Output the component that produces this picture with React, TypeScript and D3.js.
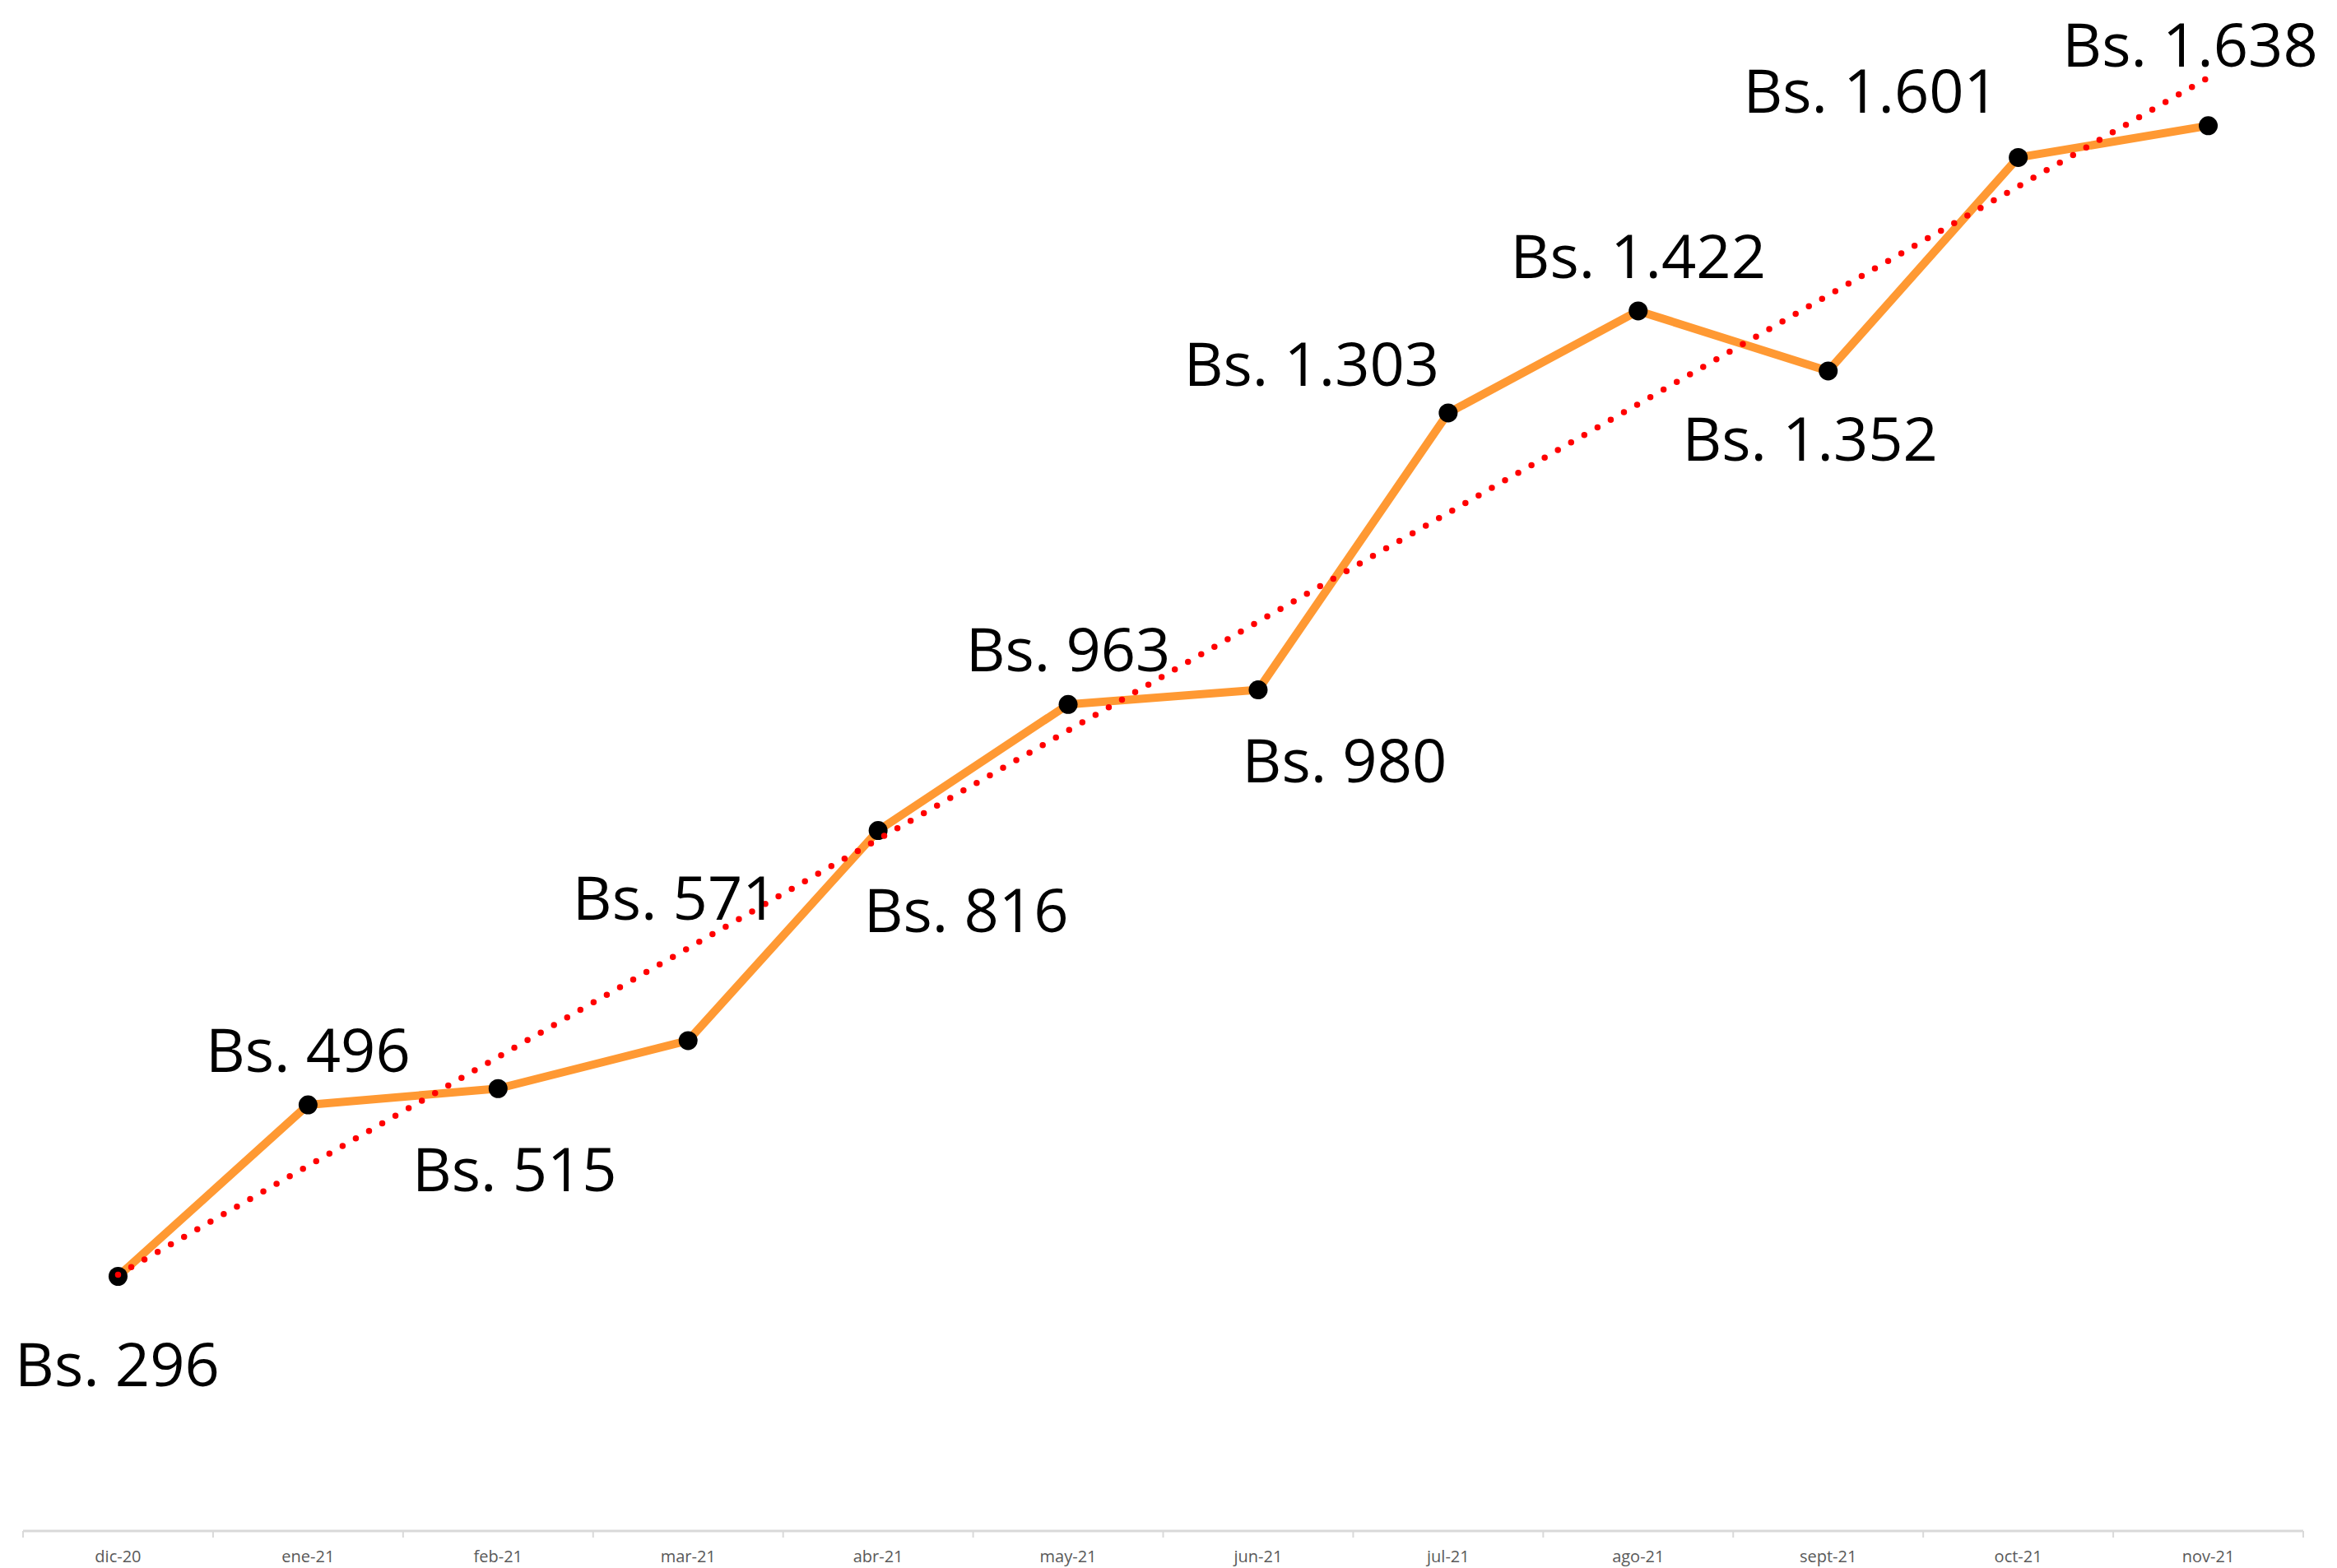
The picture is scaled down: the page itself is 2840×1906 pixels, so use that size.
import React, { useEffect, useRef } from 'react';
import * as d3 from 'd3';

const months = ['dic-20', 'ene-21', 'feb-21', 'mar-21', 'abr-21', 'may-21', 'jun-21', 'jul-21', 'ago-21', 'sept-21', 'oct-21', 'nov-21'];
const prices = [296, 496, 515, 571, 816, 963, 980, 1303, 1422, 1352, 1601, 1638];
const priceLabels = ['Bs. 296', 'Bs. 496', 'Bs. 515', 'Bs. 571', 'Bs. 816', 'Bs. 963', 'Bs. 980', 'Bs. 1.303', 'Bs. 1.422', 'Bs. 1.352', 'Bs. 1.601', 'Bs. 1.638'];

// manual label placement (px, relative to the marker), like the dragged labels in the original
const labelNudges: [number, number][] = [
  [-1, 133], [0, -40], [20, 125], [-16, -147], [107, 123], [0, -40],
  [105, 112], [-166, -33], [0, -40], [-22, 109], [-179, -54], [-22, -72]
];

const W = 2840;
const H = 1906;

const App: React.FC = () => {
  const svgRef = useRef<SVGSVGElement>(null);

  useEffect(() => {
    if (!svgRef.current) return;
    const svg = d3.select(svgRef.current);
    svg.selectAll('*').remove();

    const axisY = 1861;
    const xScale = d3.scalePoint<string>()
      .domain(months)
      .range([28, 2799])
      .padding(0.5);
    const step = xScale.step();

    const yScale = d3.scaleLinear()
      .domain([0, 1800])
      .range([1860, -16]);

    // axis line + ticks between categories
    const axis = svg.append('g');
    axis.append('line')
      .attr('x1', 28).attr('x2', 2799)
      .attr('y1', axisY).attr('y2', axisY)
      .attr('stroke', '#d9d9d9')
      .attr('stroke-width', 3);

    const tickXs = d3.range(months.length + 1).map(i => (xScale(months[0]) as number) - step / 2 + i * step);
    axis.selectAll('.tick')
      .data(tickXs)
      .enter().append('line')
      .attr('x1', d => d).attr('x2', d => d)
      .attr('y1', axisY).attr('y2', axisY + 8)
      .attr('stroke', '#d9d9d9')
      .attr('stroke-width', 2);

    axis.selectAll('.tick-label')
      .data(months)
      .enter().append('text')
      .attr('x', d => xScale(d) as number)
      .attr('y', 1899)
      .attr('text-anchor', 'middle')
      .style('font-family', '"Open Sans", sans-serif')
      .style('font-size', '20px')
      .attr('fill', '#595959')
      .text(d => d);

    // linear trend (least squares over category index)
    const xs = prices.map((_, i) => i + 1);
    const mx = d3.mean(xs) as number;
    const my = d3.mean(prices) as number;
    const slope = d3.sum(xs, (x, i) => (x - mx) * (prices[i] - my)) / d3.sum(xs, x => (x - mx) ** 2);
    const intercept = my - slope * mx;
    const trend = [0, months.length - 1].map(i => ({ m: months[i], v: intercept + slope * (i + 1) }));

    const line = d3.line<{ m: string; v: number }>()
      .x(d => xScale(d.m) as number)
      .y(d => yScale(d.v));

    const series = months.map((m, i) => ({ m, v: prices[i] }));

    svg.append('path')
      .datum(series)
      .attr('d', line)
      .attr('fill', 'none')
      .attr('stroke', '#ff9933')
      .attr('stroke-width', 10)
      .attr('stroke-linejoin', 'round');

    svg.selectAll('.marker')
      .data(series)
      .enter().append('circle')
      .attr('cx', d => xScale(d.m) as number)
      .attr('cy', d => yScale(d.v))
      .attr('r', 11.5)
      .attr('fill', '#000');

    svg.append('path')
      .datum(trend)
      .attr('d', line)
      .attr('fill', 'none')
      .attr('stroke', '#ff0000')
      .attr('stroke-width', 7.5)
      .attr('stroke-linecap', 'round')
      .attr('stroke-dasharray', '0 18.5');

    svg.selectAll('.data-label')
      .data(series)
      .enter().append('text')
      .attr('x', (d, i) => (xScale(d.m) as number) + labelNudges[i][0])
      .attr('y', (d, i) => yScale(d.v) + labelNudges[i][1])
      .attr('text-anchor', 'middle')
      .style('font-family', '"Open Sans", sans-serif')
      .style('font-size', '74px')
      .attr('fill', '#000')
      .text((d, i) => priceLabels[i]);
  }, []);

  return (
    <svg
      ref={svgRef}
      width={W}
      height={H}
      style={{ position: 'absolute', left: 0, top: 0, background: '#fff' }}
    />
  );
};

export default App;
